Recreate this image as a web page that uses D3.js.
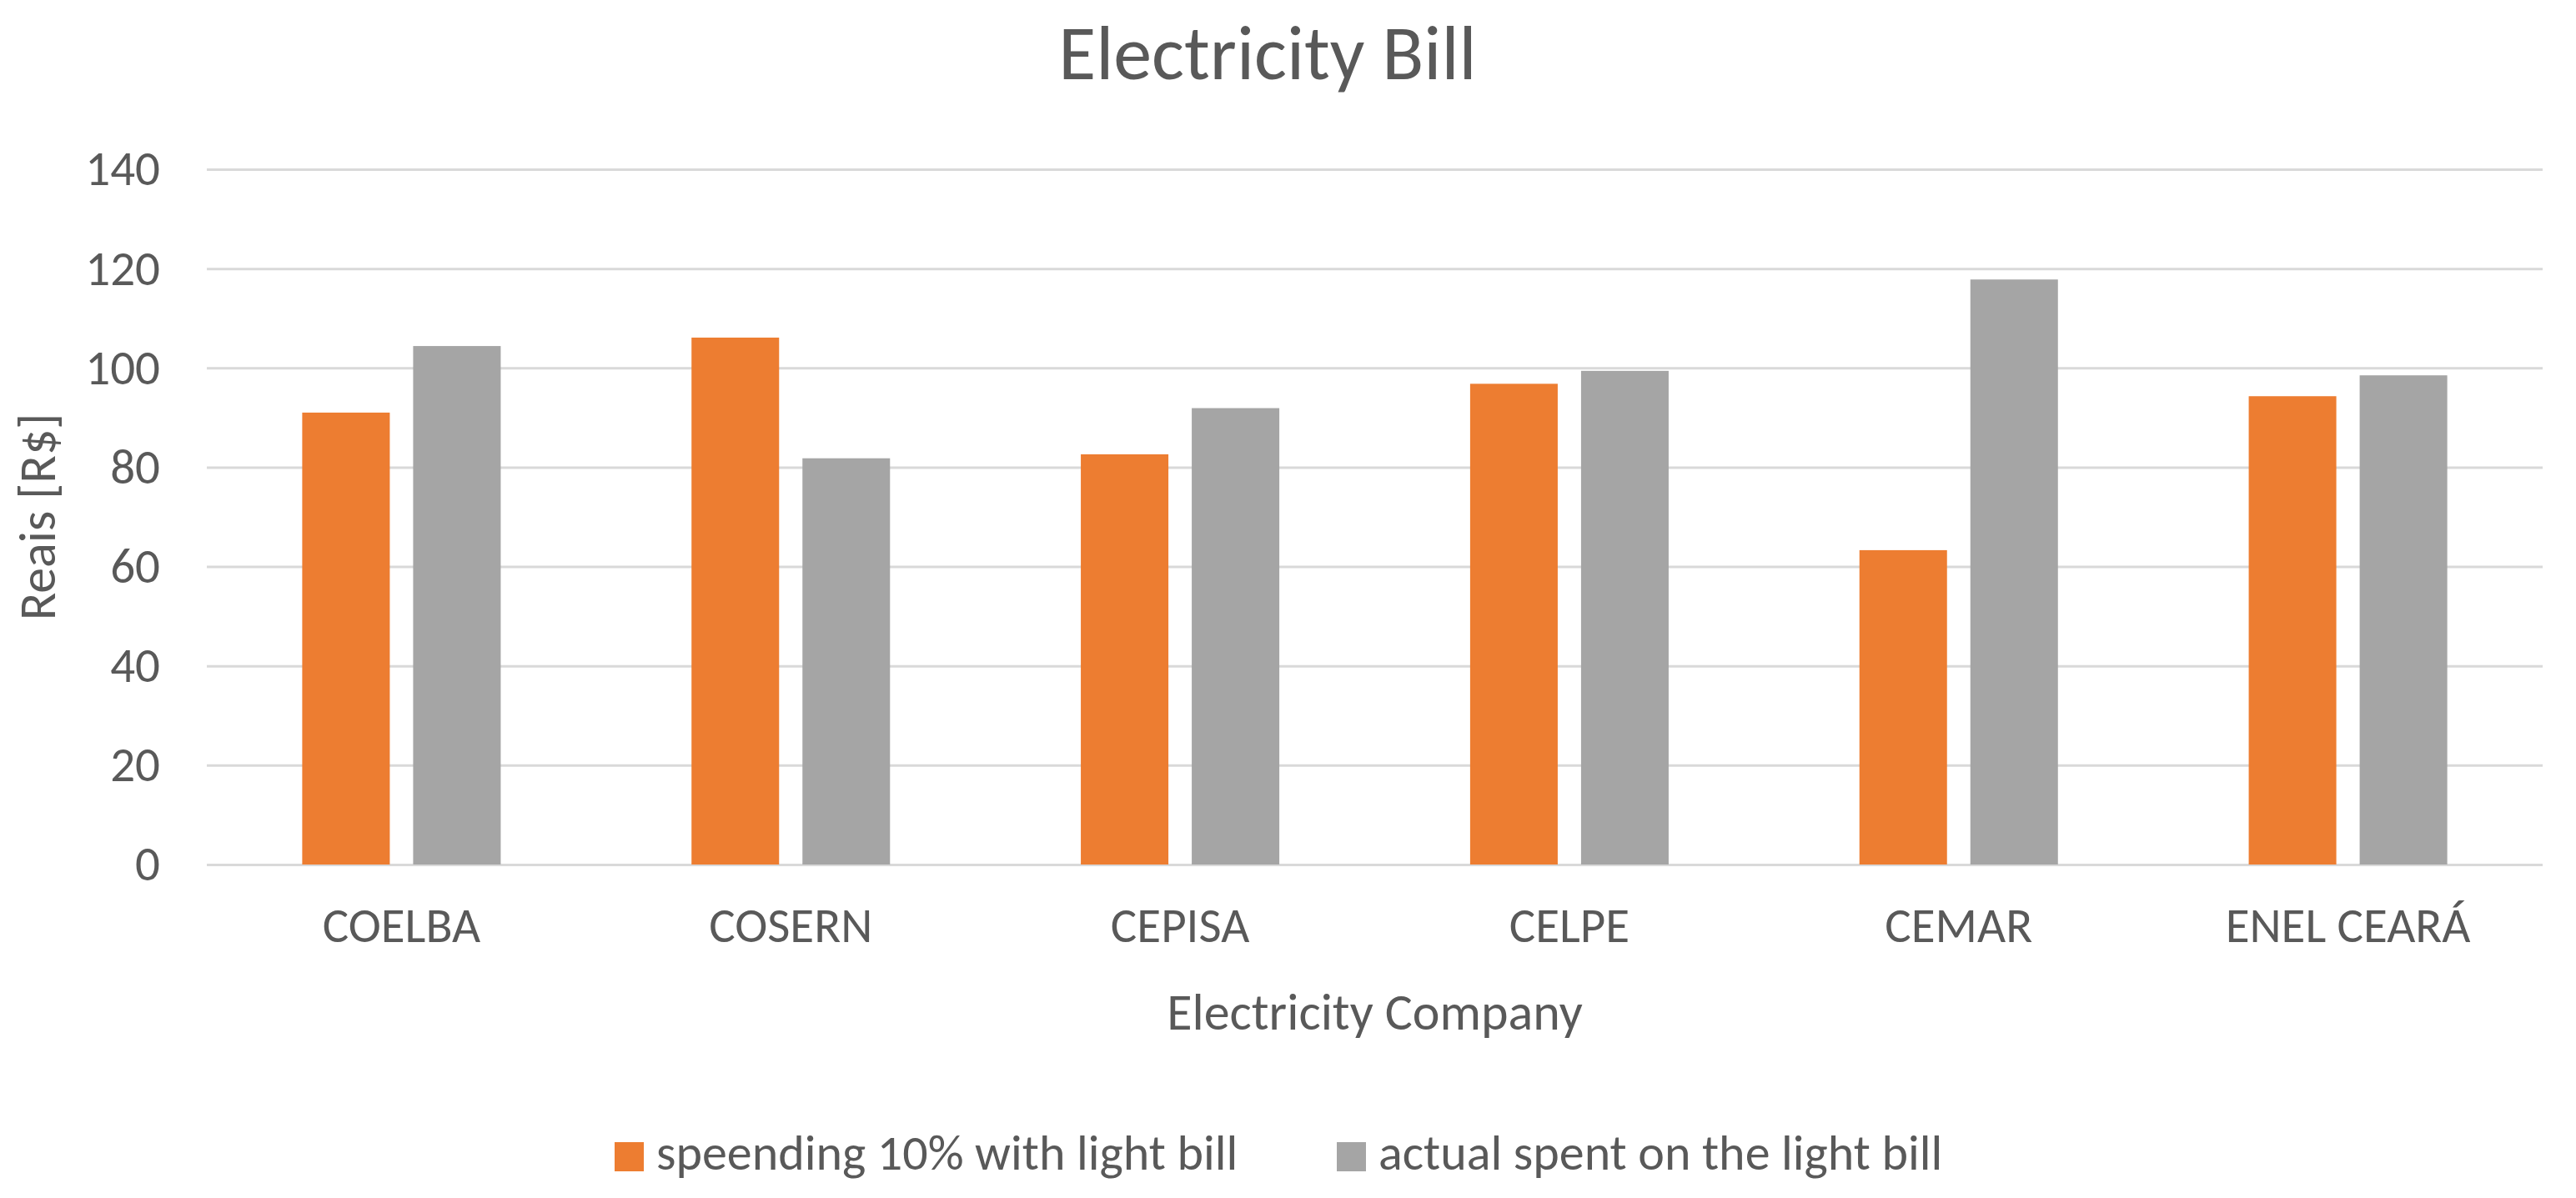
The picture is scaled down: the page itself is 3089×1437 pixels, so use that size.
<!DOCTYPE html>
<html>
<head>
<meta charset="utf-8">
<script src="https://cdn.jsdelivr.net/npm/d3@7"></script>
<style>
  html, body { margin: 0; padding: 0; background: #ffffff; }
  svg text { font-family: Carlito, Calibri, "Liberation Sans Narrow", "Open Sans", sans-serif; fill: #595959; }
</style>
</head>
<body>
<svg id="chart" width="3089" height="1437"></svg>
<script>
const categories = ["COELBA", "COSERN", "CEPISA", "CELPE", "CEMAR", "ENEL CEARÁ"];
const seriesNames = ["speending 10% with light bill", "actual spent on the light bill"];
const spending10 = [91.0, 106.1, 82.6, 96.8, 63.3, 94.3];
const actualSpent = [104.4, 81.8, 91.9, 99.4, 117.8, 98.5];
const yTicks = [0, 20, 40, 60, 80, 100, 120, 140];
const colors = ["#ED7D31", "#A5A5A5"];

const svg = d3.select("#chart");
const W = 3089, H = 1437;
const plot = { left: 248, right: 3049, top: 203, bottom: 1037 };

const y = d3.scaleLinear().domain([0, 140]).range([plot.bottom, plot.top]);
const x0 = d3.scaleBand().domain(categories).range([plot.left, plot.right]).padding(0);
const x1 = d3.scaleBand().domain(seriesNames).range([0, x0.bandwidth()])
  .paddingInner(0.2105).paddingOuter(0.86);
const color = d3.scaleOrdinal().domain(seriesNames).range(colors);

// gridlines
const yAxis = d3.axisLeft(y).tickValues(yTicks).tickSize(-(plot.right - plot.left)).tickPadding(56);
const gy = svg.append("g").attr("transform", `translate(${plot.left},0)`).call(yAxis);
gy.select(".domain").remove();
gy.selectAll(".tick line").attr("stroke", "#D9D9D9").attr("stroke-width", 3);
gy.selectAll(".tick text").attr("font-size", 59).attr("fill", "#595959").attr("dy", "0.32em");

// bars
const rows = categories.map((c, i) => ({ cat: c, values: [spending10[i], actualSpent[i]] }));
const groups = svg.append("g").selectAll("g").data(rows).join("g")
  .attr("transform", d => `translate(${x0(d.cat)},0)`);
groups.selectAll("rect").data(d => d.values.map((v, k) => ({ key: seriesNames[k], value: v })))
  .join("rect")
  .attr("x", d => x1(d.key))
  .attr("width", x1.bandwidth())
  .attr("y", d => y(d.value))
  .attr("height", d => y(0) - y(d.value))
  .attr("fill", d => color(d.key));

// category axis
const xAxis = d3.axisBottom(x0).tickSize(0).tickPadding(0);
const gx = svg.append("g").attr("transform", `translate(0,${plot.bottom})`).call(xAxis);
gx.select(".domain").remove();
gx.selectAll(".tick text").attr("font-size", 59).attr("fill", "#595959").attr("dy", 0).attr("y", 93);

// title
svg.append("text").attr("x", 1520).attr("y", 95).attr("text-anchor", "middle")
  .attr("font-size", 92).text("Electricity Bill");

// axis titles
svg.append("text").attr("x", (plot.left + plot.right) / 2).attr("y", 1235).attr("text-anchor", "middle")
  .attr("font-size", 62).text("Electricity Company");
svg.append("text").attr("transform", `translate(66,${(plot.top + plot.bottom) / 2}) rotate(-90)`)
  .attr("text-anchor", "middle").attr("font-size", 62).text("Reais [R$]");

// legend
const legendX = [737, 1603];
const leg = svg.append("g").selectAll("g").data(seriesNames).join("g")
  .attr("transform", (d, i) => `translate(${legendX[i]},1370)`);
leg.append("rect").attr("width", 35).attr("height", 35).attr("fill", d => color(d));
leg.append("text").attr("x", 50).attr("y", 33).attr("font-size", 60).text(d => d);
</script>
</body>
</html>
